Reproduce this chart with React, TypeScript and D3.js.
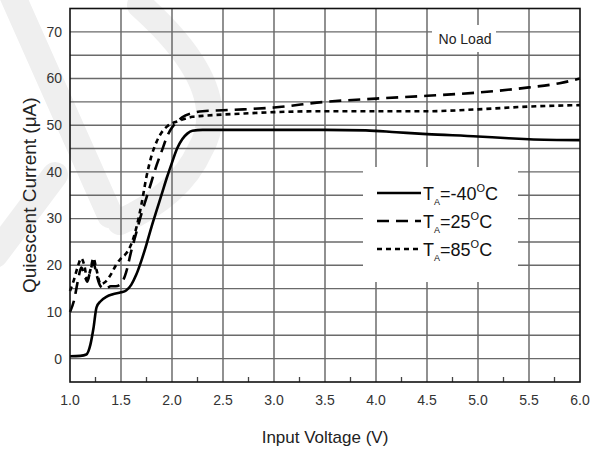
import React from "react";
import * as d3 from "d3";

// [input voltage (V), quiescent current (uA)]
const coldSeries: [number, number][] = [
  [1.0, 0.5], [1.1, 0.6], [1.16, 0.9], [1.2, 3], [1.23, 6.5], [1.26, 11],
  [1.3, 12.3], [1.36, 13.3], [1.42, 13.8], [1.5, 14.2], [1.55, 14.6],
  [1.6, 15.8], [1.65, 18], [1.7, 21], [1.75, 24.5], [1.8, 28.3], [1.85, 31.8],
  [1.9, 35.3], [1.95, 38.8], [2.0, 42], [2.05, 45], [2.1, 47], [2.15, 48.2],
  [2.2, 48.8], [2.3, 49], [2.5, 49], [3.0, 49], [3.5, 49], [3.9, 48.9],
  [4.2, 48.5], [4.5, 48.1], [5.0, 47.6], [5.3, 47.2], [5.5, 47], [6.0, 46.8],
];
const roomSeries: [number, number][] = [
  [1.0, 10], [1.04, 12.5], [1.08, 17], [1.11, 19.5], [1.14, 18], [1.17, 16.5],
  [1.2, 19], [1.23, 20.5], [1.26, 18], [1.3, 15.5], [1.35, 15], [1.4, 15.5],
  [1.45, 15.5], [1.5, 16], [1.55, 18.5], [1.6, 23], [1.65, 27], [1.7, 31],
  [1.75, 34.5], [1.8, 38], [1.85, 41.5], [1.9, 44.5], [1.95, 47.5], [2.0, 49.5],
  [2.05, 50.7], [2.1, 51.7], [2.2, 52.6], [2.3, 53], [2.5, 53.2], [2.7, 53.4],
  [3.0, 53.8], [3.5, 55], [4.0, 55.7], [4.5, 56.3], [5.0, 57], [5.5, 58.1],
  [5.8, 59], [6.0, 60],
];
const hotSeries: [number, number][] = [
  [1.0, 14.5], [1.04, 17], [1.08, 20], [1.11, 21.5], [1.14, 20], [1.17, 17],
  [1.2, 19], [1.23, 21.5], [1.26, 19], [1.3, 16], [1.35, 16.5], [1.4, 18],
  [1.45, 20], [1.5, 21.5], [1.55, 22.5], [1.6, 24.5], [1.65, 28], [1.7, 33],
  [1.75, 39], [1.8, 43.5], [1.85, 46.5], [1.9, 48.5], [1.95, 49.7], [2.0, 50.4],
  [2.05, 50.8], [2.1, 51.2], [2.2, 51.8], [2.3, 52], [2.7, 52.5], [3.0, 52.8],
  [3.5, 53], [4.0, 53], [4.5, 53], [5.0, 53.4], [5.5, 54], [6.0, 54.3],
];

const xTickLabels = ["1.0", "1.5", "2.0", "2.5", "3.0", "3.5", "4.0", "4.5", "5.0", "5.5", "6.0"];
const yTickValues = [0, 10, 20, 30, 40, 50, 60, 70];
const legendTemps = ["-40", "25", "85"];

const width = 606;
const height = 451;
const margin = { top: 8.5, right: 26, bottom: 69, left: 70 };
const font = "'Liberation Sans', Arial, sans-serif";

const x = d3.scaleLinear().domain([1, 6]).range([margin.left, width - margin.right]);
const y = d3.scaleLinear().domain([-5, 75]).range([height - margin.bottom, margin.top]);

const line = d3
  .line<[number, number]>()
  .x((d) => x(d[0]))
  .y((d) => y(d[1]))
  .curve(d3.curveMonotoneX);

const styles = [
  { data: coldSeries, dash: "none" },
  { data: roomSeries, dash: "12 7" },
  { data: hotSeries, dash: "5 4" },
];

export default function App() {
  const x0 = x.range()[0];
  const x1 = x.range()[1];
  const y0 = y.range()[0];
  const y1 = y.range()[1];
  const vGrid = d3.range(1.5, 6, 0.5);
  const hGrid = d3.range(0, 71, 5);
  const minor = d3.range(1.25, 6, 0.5);

  return (
    <svg
      width={width}
      height={height}
      style={{ position: "absolute", left: 0, top: 0, background: "#fff" }}
    >
      {/* faint watermark */}
      <g stroke="#efefef" strokeWidth={26} fill="none" strokeLinecap="round">
        <path d="M10,-10 L110,215" />
        <path d="M-5,255 L55,175" />
        <path d="M140,5 Q235,90 200,150 Q180,195 120,222" />
      </g>

      {vGrid.map((v) => (
        <line key={"v" + v} x1={x(v)} x2={x(v)} y1={y1} y2={y0} stroke="#555" strokeWidth={1.3} />
      ))}
      {hGrid.map((v) => (
        <line key={"h" + v} x1={x0} x2={x1} y1={y(v)} y2={y(v)} stroke="#6a6a6a" strokeWidth={1.4} />
      ))}
      {minor.map((v) => (
        <line key={"m" + v} x1={x(v)} x2={x(v)} y1={y0} y2={y0 - 5} stroke="#444" strokeWidth={1.3} />
      ))}

      {/* white boxes behind legend and note */}
      <rect x={363} y={167} width={155} height={115} fill="#fff" />
      <rect x={432} y={25} width={64} height={27} fill="#fff" />

      {styles.map((s, i) => (
        <path
          key={i}
          d={line(s.data) ?? ""}
          fill="none"
          stroke="#000"
          strokeWidth={2.6}
          strokeDasharray={s.dash}
        />
      ))}

      <rect x={x0} y={y1} width={x1 - x0} height={y0 - y1} fill="none" stroke="#111" strokeWidth={1.6} />

      <text x={465} y={43.5} fontFamily={font} fontSize={14} textAnchor="middle" fill="#222">
        No Load
      </text>

      {legendTemps.map((t, i) => {
        const ly = 193 + i * 28;
        return (
          <g key={t}>
            <line
              x1={377}
              x2={421}
              y1={ly}
              y2={ly}
              stroke="#000"
              strokeWidth={2.6}
              strokeDasharray={styles[i].dash}
            />
            <text x={423} y={ly + 7} fontFamily={font} fontSize={18} fill="#111">
              T
              <tspan fontSize={9} dy={5}>A</tspan>
              <tspan fontSize={18} dy={-5}>={t}</tspan>
              <tspan fontSize={11} dy={-8}>O</tspan>
              <tspan fontSize={18} dy={8}>C</tspan>
            </text>
          </g>
        );
      })}

      {xTickLabels.map((l) => (
        <text
          key={l}
          x={x(+l)}
          y={405}
          fontFamily={font}
          fontSize={14}
          textAnchor="middle"
          fill="#333"
        >
          {l}
        </text>
      ))}
      {yTickValues.map((v) => (
        <text
          key={v}
          x={62}
          y={y(v)}
          dy="0.35em"
          fontFamily={font}
          fontSize={14}
          textAnchor="end"
          fill="#333"
        >
          {v}
        </text>
      ))}

      <text
        x={(x0 + x1) / 2}
        y={443}
        fontFamily={font}
        fontSize={17}
        textAnchor="middle"
        fill="#222"
      >
        Input Voltage (V)
      </text>
      <text
        transform={`translate(36,${(y0 + y1) / 2}) rotate(-90)`}
        fontFamily={font}
        fontSize={19}
        textAnchor="middle"
        fill="#222"
      >
        Quiescent Current (μA)
      </text>
    </svg>
  );
}
